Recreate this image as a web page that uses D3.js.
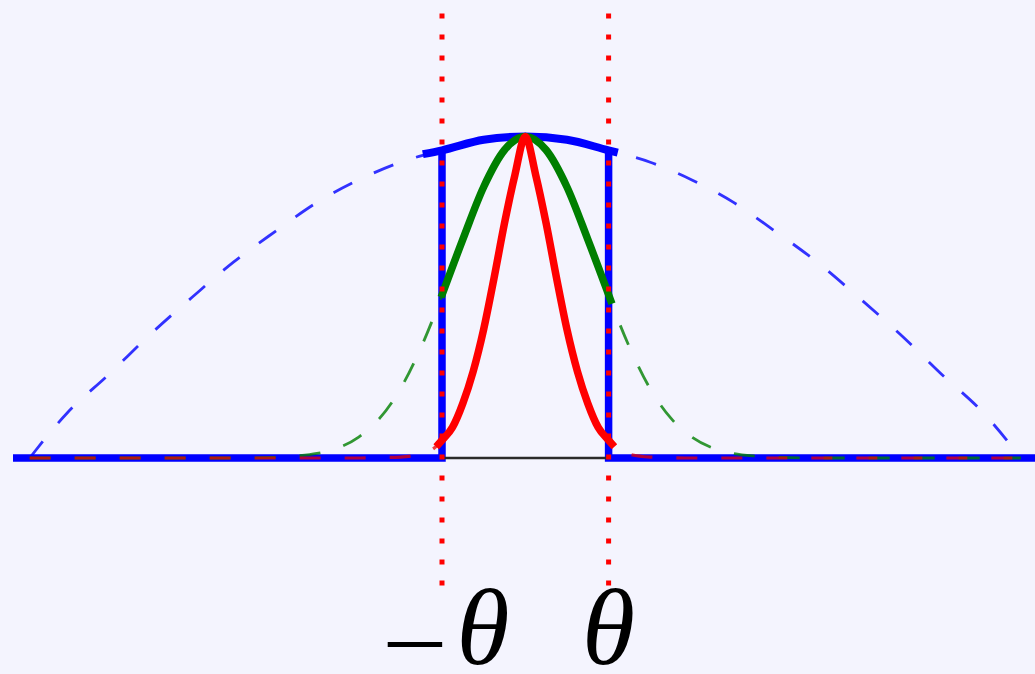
<!DOCTYPE html>
<html>
<head>
<meta charset="utf-8">
<script src="https://cdn.jsdelivr.net/npm/d3@7"></script>
<style>
  html, body { margin: 0; padding: 0; background: #f4f4fe; }
  svg { display: block; }
</style>
</head>
<body>
<script>
// Truncated densities on [-θ, θ]; x measured in units of θ, heights normalised to peak = 1.

// Wide (blue) density, dashed over the full support
const blueX = [-5.95, -5.5, -5, -4.5, -4, -3.5, -3, -2.5, -2, -1.5, -1, -0.5, 0,
               0.5, 1, 1.5, 2, 2.5, 3, 3.5, 4, 4.5, 5, 5.5, 5.95];
const blueY = [0, 0.14, 0.26, 0.385, 0.5, 0.61, 0.705, 0.795, 0.865, 0.92, 0.957, 0.99, 1,
               0.99, 0.957, 0.92, 0.865, 0.795, 0.705, 0.61, 0.5, 0.385, 0.26, 0.14, 0];

// Medium (green) density
const greenX = [-5.95, -3.5, -3, -2.75, -2.5, -2.25, -2, -1.75, -1.5, -1.25, -1, -0.75, -0.5, -0.25, 0,
                0.25, 0.5, 0.75, 1, 1.25, 1.5, 1.75, 2, 2.25, 2.5, 2.75, 3, 3.5, 5.95];
const greenY = [0, 0, 0.002, 0.006, 0.014, 0.031, 0.065, 0.123, 0.215, 0.345, 0.505, 0.68, 0.843, 0.958, 1,
                0.958, 0.843, 0.68, 0.505, 0.345, 0.215, 0.123, 0.065, 0.031, 0.014, 0.006, 0.002, 0, 0];

// Narrow (red) density
const redX = [-5.95, -2, -1.75, -1.5, -1.25, -1.125, -1, -0.875, -0.75, -0.625, -0.5, -0.375, -0.25, -0.125, 0,
              0.125, 0.25, 0.375, 0.5, 0.625, 0.75, 0.875, 1, 1.125, 1.25, 1.5, 1.75, 2, 5.95];
const redY = [0, 0, 0.001, 0.003, 0.012, 0.025, 0.055, 0.095, 0.17, 0.27, 0.4, 0.56, 0.73, 0.88, 1,
              0.88, 0.73, 0.56, 0.4, 0.27, 0.17, 0.095, 0.055, 0.025, 0.012, 0.003, 0.001, 0, 0];

// Solid pieces kept inside the truncation window
const blueSolidX = [-1.23, -1, -0.5, 0, 0.5, 1, 1.11];
const blueSolidY = [0.945, 0.957, 0.99, 1, 0.99, 0.957, 0.95];
const greenSolidX = [-1.01, -0.75, -0.5, -0.25, 0, 0.25, 0.5, 0.75, 1.04];
const greenSolidY = [0.5, 0.68, 0.843, 0.958, 1, 0.958, 0.843, 0.68, 0.48];
const redSolidX = [-1.07, -1, -0.875, -0.75, -0.625, -0.5, -0.375, -0.25, -0.125, 0,
                   0.125, 0.25, 0.375, 0.5, 0.625, 0.75, 0.875, 1, 1.07];
const redSolidY = [0.035, 0.055, 0.095, 0.17, 0.27, 0.4, 0.56, 0.73, 0.88, 1,
                   0.88, 0.73, 0.56, 0.4, 0.27, 0.17, 0.095, 0.055, 0.035];

// Truncation bounds and their labels
const boundX = [-1, 1];
const boundSign = ["−", ""];
const boundSymbol = "θ";
const supportX = [-6.15, 6.4];

const W = 1035, H = 674;
const svg = d3.select("body").append("svg").attr("width", W).attr("height", H);
svg.append("rect").attr("width", W).attr("height", H).attr("fill", "#f4f4fe");

const x = d3.scaleLinear().domain([-1, 1]).range([442, 608.6]);
const y = d3.scaleLinear().domain([0, 1]).range([458, 136.5]);

const zip = (xs, ys) => xs.map((v, i) => [v, ys[i]]);
const line = d3.line().x(d => x(d[0])).y(d => y(d[1])).curve(d3.curveMonotoneX);
const straight = d3.line().x(d => x(d[0])).y(d => y(d[1]));

// Blue truncated density: zero outside, jumps at ±θ
const blueEdgeL = [[supportX[0], 0], [boundX[0], 0], [boundX[0], blueSolidY[1]]];
const blueEdgeR = [[boundX[1], blueSolidY[blueSolidY.length - 2]], [boundX[1], 0], [supportX[1], 0]];
[blueEdgeL, blueEdgeR].forEach(pts => {
  svg.append("path").attr("d", straight(pts))
    .attr("fill", "none").attr("stroke", "#0000ff").attr("stroke-width", 7.5)
    .attr("stroke-linejoin", "miter");
});

// thin axis segment between the bounds
svg.append("path").attr("d", straight([[boundX[0], 0], [boundX[1], 0]]))
  .attr("fill", "none").attr("stroke", "#2a2a2a").attr("stroke-width", 2.4);

svg.append("path").attr("d", line(zip(blueSolidX, blueSolidY)))
  .attr("fill", "none").attr("stroke", "#0000ff").attr("stroke-width", 8);

// Untruncated densities, dashed
const dashed = [
  { xs: blueX, ys: blueY, color: "rgba(0,0,255,0.8)", w: 2.8 },
  { xs: greenX, ys: greenY, color: "rgba(0,128,0,0.8)", w: 2.8 },
  { xs: redX, ys: redY, color: "rgba(235,0,0,0.75)", w: 3.2 }
];
dashed.forEach(s => {
  svg.append("path").attr("d", line(zip(s.xs, s.ys)))
    .attr("fill", "none").attr("stroke", s.color).attr("stroke-width", s.w)
    .attr("stroke-dasharray", "21,24");
});

// Truncated green and red densities, solid
svg.append("path").attr("d", line(zip(greenSolidX, greenSolidY)))
  .attr("fill", "none").attr("stroke", "#007f00").attr("stroke-width", 7.5);
svg.append("path").attr("d", line(zip(redSolidX, redSolidY)))
  .attr("fill", "none").attr("stroke", "#ff0000").attr("stroke-width", 7.5)
  .attr("stroke-linejoin", "round");

// Dotted markers at ±θ
boundX.forEach(b => {
  svg.append("line")
    .attr("x1", x(b)).attr("x2", x(b)).attr("y1", 13.5).attr("y2", 586)
    .attr("stroke", "#ff0000").attr("stroke-width", 5)
    .attr("stroke-dasharray", "5,16");
});

// Bound labels: upright minus sign, italic theta
const labelFont = "'Liberation Serif', 'DejaVu Serif', serif";
boundX.forEach((b, i) => {
  const thetaX = i === 0 ? x(b) + 41 : x(b);
  if (boundSign[i]) {
    svg.append("text")
      .attr("x", x(b) - 27).attr("y", 669)
      .attr("text-anchor", "middle")
      .attr("font-family", labelFont).attr("font-size", 104)
      .attr("transform", `translate(0, 10) scale(1, 1)`)
      .attr("textLength", 66).attr("lengthAdjust", "spacingAndGlyphs")
      .attr("fill", "#000").text(boundSign[i]);
  }
  svg.append("text")
    .attr("x", thetaX).attr("y", 664)
    .attr("text-anchor", "middle")
    .attr("font-family", labelFont).attr("font-size", 108)
    .attr("font-style", "italic")
    .attr("fill", "#000").text(boundSymbol);
});
</script>
</body>
</html>
